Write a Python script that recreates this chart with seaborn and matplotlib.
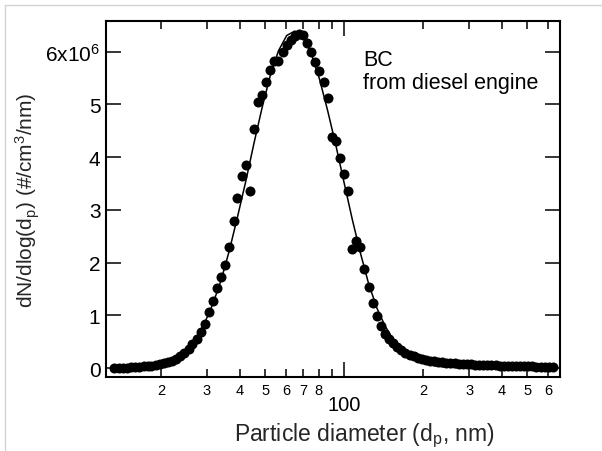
import numpy as np
import pandas as pd
import matplotlib
matplotlib.use("Agg")
import matplotlib.pyplot as plt
import seaborn as sns
from matplotlib.ticker import FixedLocator, FixedFormatter, NullLocator
from matplotlib.lines import Line2D

# ---- data ----
diameter_nm = [13.3, 13.8, 14.3, 14.9, 15.4, 16.0, 16.5, 17.2, 17.8, 18.4, 19.1, 19.8,
               20.5, 21.3, 22.1, 22.9, 23.7, 24.6, 25.5, 26.4, 27.4, 28.4, 29.4, 30.5,
               31.6, 32.8, 34.0, 35.2, 36.5, 37.9, 39.2, 40.7, 42.2, 43.7, 45.3, 47.0,
               48.7, 50.5, 52.3, 54.2, 56.2, 58.3, 60.4, 62.6, 64.9, 67.3, 69.8, 72.3,
               75.0, 77.7, 80.6, 83.5, 86.6, 89.8, 93.1, 96.5, 100.0, 103.7, 107.5, 111.4,
               115.5, 119.7, 124.1, 128.6, 133.4, 138.2, 143.3, 148.5, 154.0, 159.6, 165.5,
               171.5, 177.8, 184.3, 191.1, 198.1, 205.4, 212.9, 220.7, 228.8, 237.1, 245.8,
               254.8, 264.2, 273.8, 283.9, 294.3, 305.1, 316.2, 327.8, 339.8, 352.3, 365.2,
               378.6, 392.4, 406.8, 421.7, 437.1, 453.2, 469.8, 487.0, 504.8, 523.3, 542.5,
               562.3, 582.9, 604.3, 626.4]
dndlogdp_1e6 = [0.01, 0.01, 0.01, 0.01, 0.02, 0.02, 0.02, 0.03, 0.03, 0.04, 0.05, 0.07,
                0.09, 0.11, 0.14, 0.18, 0.22, 0.29, 0.36, 0.45, 0.55, 0.68, 0.84, 1.06,
                1.27, 1.52, 1.73, 1.95, 2.30, 2.79, 3.22, 3.64, 3.85, 3.36, 4.54, 5.05,
                5.18, 5.43, 5.65, 5.83, 5.83, 6.00, 6.12, 6.22, 6.30, 6.34, 6.32, 6.17,
                6.00, 5.81, 5.64, 5.43, 5.12, 4.38, 4.30, 3.98, 3.68, 3.36, 2.26, 2.40,
                2.30, 1.88, 1.54, 1.23, 0.99, 0.80, 0.65, 0.55, 0.47, 0.40, 0.34,
                0.29, 0.25, 0.22, 0.19, 0.17, 0.15, 0.14, 0.13, 0.12, 0.11, 0.10,
                0.09, 0.09, 0.08, 0.08, 0.07, 0.07, 0.06, 0.06, 0.06, 0.05, 0.05,
                0.05, 0.04, 0.04, 0.04, 0.04, 0.03, 0.03, 0.03, 0.03, 0.03, 0.02,
                0.02, 0.02, 0.02, 0.02]

fit_diameter_nm = [13.3, 14.3, 15.4, 16.5, 17.8, 19.1, 20.5, 22.1, 23.7, 25.5, 27.4, 29.4,
                   31.6, 34.0, 36.5, 39.2, 42.2, 45.3, 48.7, 52.3, 56.2, 60.4, 64.9, 69.8,
                   75.0, 80.6, 86.6, 93.1, 100.0, 107.5, 115.5, 124.1, 133.4, 143.3, 154.0,
                   165.5, 177.8, 191.1, 205.4, 220.7, 237.1, 254.8, 273.8, 294.3, 316.2,
                   339.8, 365.2, 392.4, 421.7, 453.2, 487.0, 523.3, 562.3, 604.3]
fit_dndlogdp_1e6 = [0.002, 0.004, 0.008, 0.015, 0.028, 0.051, 0.089, 0.150, 0.243, 0.383,
                    0.583, 0.857, 1.219, 1.676, 2.228, 2.862, 3.546, 4.257, 4.941, 5.546,
                    6.014, 6.304, 6.390, 6.270, 5.960, 5.480, 4.880, 4.220, 3.520, 2.820,
                    2.180, 1.600, 1.140, 0.800, 0.540, 0.350, 0.220, 0.134, 0.079, 0.045,
                    0.025, 0.013, 0.007, 0.003, 0.001, 0.0, 0.0, 0.0, 0.0, 0.0, 0.0, 0.0,
                    0.0, 0.0]

y_tick_values = [0, 1e6, 2e6, 3e6, 4e6, 5e6, 6e6]
y_tick_labels = ["0", "1", "2", "3", "4", "5", r"6x10$^{6}$"]
x_major_ticks = [100]
x_major_labels = ["100"]
x_minor_ticks = [20, 30, 40, 50, 60, 70, 80, 90, 200, 300, 400, 500, 600]
x_minor_labels = ["2", "3", "4", "5", "6", "7", "8", "", "2", "3", "4", "5", "6"]

# ---- style ----
sns.set_theme(style="ticks")
plt.rcParams['font.family'] = ['Liberation Sans', 'DejaVu Sans']
plt.rcParams['mathtext.fontset'] = 'custom'
plt.rcParams['mathtext.rm'] = 'Liberation Sans'
plt.rcParams['mathtext.it'] = 'Liberation Sans:italic'
plt.rcParams['mathtext.bf'] = 'Liberation Sans:bold'

fig = plt.figure(figsize=(6.02, 4.52), dpi=100)
fig.patch.set_facecolor("white")
ax = fig.add_axes([106 / 602, 1 - 378 / 452, 454 / 602, 356 / 452])
ax.set_facecolor("white")

df = pd.DataFrame({"d": diameter_nm, "n": np.array(dndlogdp_1e6) * 1e6})
fit_df = pd.DataFrame({"d": fit_diameter_nm, "n": np.array(fit_dndlogdp_1e6) * 1e6})

sns.scatterplot(data=df, x="d", y="n", ax=ax, color="black", s=52,
                linewidth=0, zorder=2, legend=False)
sns.lineplot(data=fit_df, x="d", y="n", ax=ax, color="black", lw=1.1,
             zorder=3, legend=False)

ax.set_xscale("log")
ax.set_xlim(12.35, 667)
ax.set_ylim(-0.17e6, 6.58e6)

ax.xaxis.set_major_locator(FixedLocator(x_major_ticks))
ax.xaxis.set_major_formatter(FixedFormatter(x_major_labels))
ax.xaxis.set_minor_locator(FixedLocator(x_minor_ticks))
ax.xaxis.set_minor_formatter(FixedFormatter(x_minor_labels))
ax.yaxis.set_major_locator(FixedLocator(y_tick_values))
ax.yaxis.set_major_formatter(FixedFormatter(y_tick_labels))
ax.yaxis.set_minor_locator(NullLocator())

for sp in ax.spines.values():
    sp.set_visible(True)
    sp.set_color("black")
    sp.set_linewidth(1.5)

ax.tick_params(which="both", direction="in", top=True, right=True,
               color="black", labelcolor="black")
ax.tick_params(which="major", length=11, width=1.1)
ax.tick_params(axis="y", which="major", labelsize=15, pad=4)
ax.tick_params(axis="x", which="major", labelsize=14.5, pad=13)
ax.tick_params(axis="x", which="minor", length=6, width=1.1, labelsize=10.5, pad=4)

ax.set_xlabel(r"Particle diameter (d$_{\mathrm{p}}$, nm)", fontsize=16.5)
ax.xaxis.set_label_coords(0.568, -0.122)
ax.set_ylabel(r"dN/dlog(d$_{\mathrm{p}}$) (#/cm$^{3}$/nm)", fontsize=15)
ax.yaxis.set_label_coords(-0.142, 0.5)

fig.text(363 / 602, 1 - 50 / 452, "BC\nfrom diesel engine", fontsize=15.5,
         ha="left", va="top", color="black", linespacing=1.1)

# light grey frame edges (top and left)
fig.add_artist(Line2D([4.5 / 602, 4.5 / 602], [0, 1 - 6 / 452],
                      transform=fig.transFigure, color="#d4d4d4", lw=1))
fig.add_artist(Line2D([4.5 / 602, 1], [1 - 6 / 452, 1 - 6 / 452],
                      transform=fig.transFigure, color="#d4d4d4", lw=1))

fig.savefig("out.png", dpi=100)
